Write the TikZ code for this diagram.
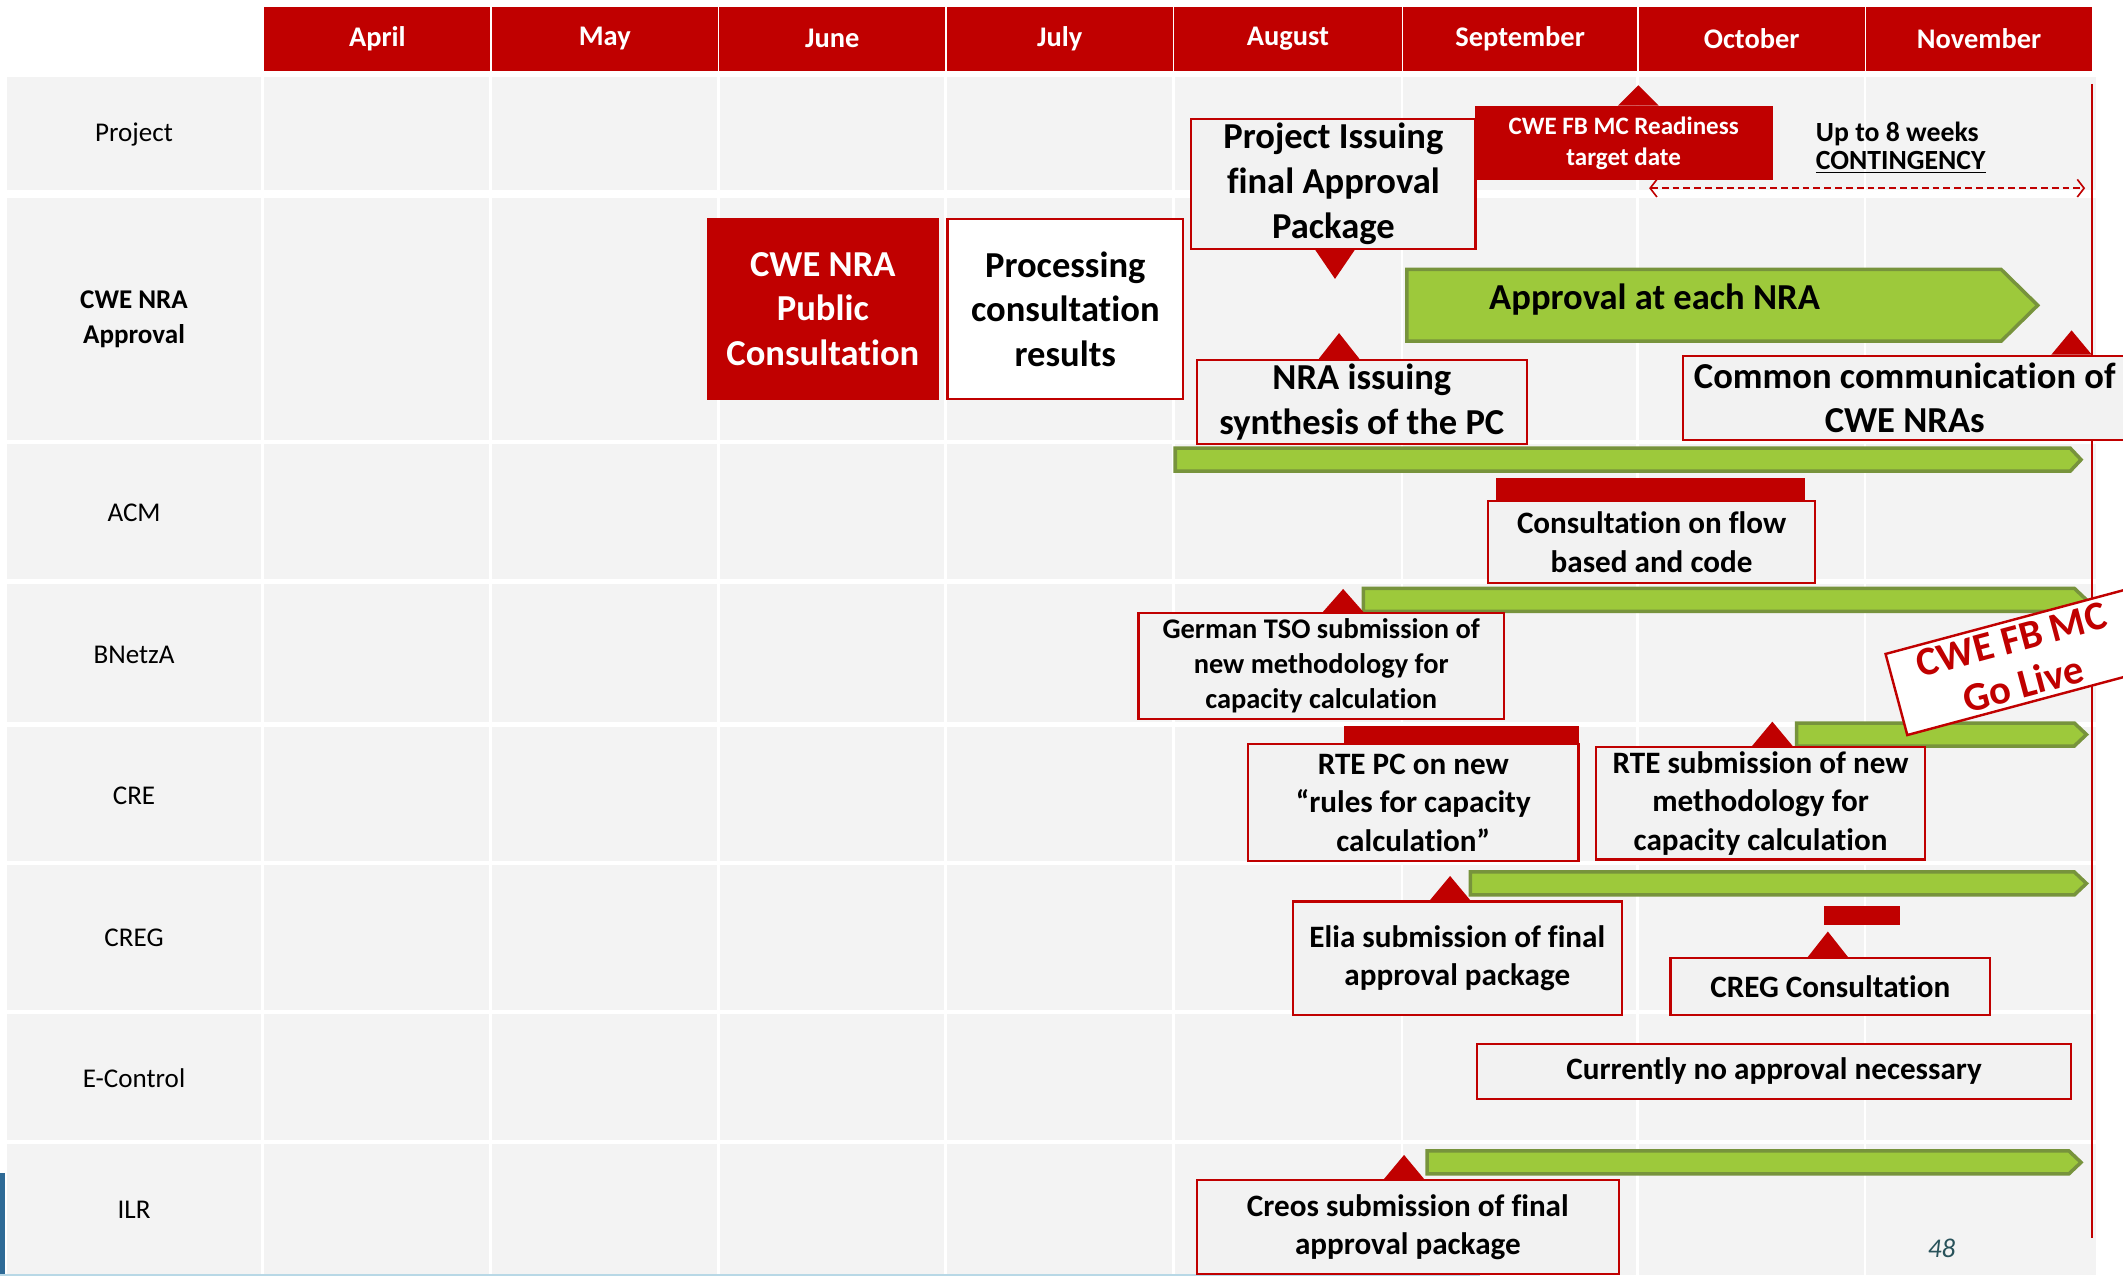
\documentclass[tikz,border=0pt]{standalone}
\usepackage{fontspec}
\setmainfont[RawFeature={-liga}]{Carlito}
\usetikzlibrary{arrows.meta}
\definecolor{cred}{HTML}{C00000}
\definecolor{cgray}{HTML}{F3F3F3}
\definecolor{bgray}{HTML}{F2F2F2}
\definecolor{gfill}{HTML}{9DC93B}
\definecolor{gdraw}{HTML}{77933C}
\definecolor{pgnum}{HTML}{28525A}
\definecolor{sblue}{HTML}{2E6A96}
\definecolor{lblue}{HTML}{B8D8E6}
\begin{document}
\begin{tikzpicture}[x=1pt,y=-1pt,
  month/.style={fill=cred, text=white, font=\bfseries\fontsize{21}{25}\selectfont, anchor=north west, inner sep=0pt, minimum height=47pt},
  rowlab/.style={font=\fontsize{20}{26}\selectfont, align=center, inner sep=0pt},
  box/.style={draw=cred, line width=1.6pt, fill=bgray, anchor=north west, inner sep=0pt, align=center, font=\bfseries\fontsize{23}{28.5}\selectfont},
  bigtxt/.style={font=\bfseries\fontsize{27}{33}\selectfont},
  greenbar/.style={fill=gfill, draw=gdraw, line width=2.6pt, line join=miter},
  redtri/.style={fill=cred},
  redbar/.style={fill=cred}]
\useasboundingbox (0,0) rectangle (1568,942);
\clip (0,0) rectangle (1568,942);
\fill[white] (0,0) rectangle (1568,942);

% grid rows
\foreach \ya/\yb in {57/140,146/325,328/428,431/533,537/636,639/746,749/842,845/942}
  \fill[cgray] (5,\ya) rectangle (1548,\yb);
\foreach \x in {194,362.5,530.5,698.5,866.5,1035.5,1209.5,1377.5}
  \draw[white, line width=2pt] (\x,55) -- (\x,942);

% slide artefacts
\fill[sblue] (0,866) rectangle (4,942);
\draw[lblue, line width=1.5pt] (0,941.5) -- (1093,941.5);

% header
\node[month, minimum width=167pt] (apr) at (195,5) {April};
\node[month, minimum width=167pt] (may) at (363,5) {May};
\node[month, minimum width=167pt] (jun) at (531,5) {June};
\node[month, minimum width=167pt] (jul) at (699,5) {July};
\node[month, minimum width=168pt] (aug) at (867,5) {August};
\node[month, minimum width=173pt] (sep) at (1036,5) {September};
\node[month, minimum width=167pt] (oct) at (1210,5) {October};
\node[month, minimum width=167pt] (nov) at (1378,5) {November};

% row labels
\node[rowlab] (lproj) at (99,99.5) {Project};
\node[rowlab, font=\bfseries\fontsize{20}{26}\selectfont] (lcwe) at (99,236) {CWE NRA\\Approval};
\node[rowlab] (lacm) at (99,379) {ACM};
\node[rowlab] (lbnetza) at (99,483.5) {BNetzA};
\node[rowlab] (lcre) at (99,587.5) {CRE};
\node[rowlab] (lcreg) at (99,693) {CREG};
\node[rowlab] (lecon) at (99,796.5) {E-Control};
\node[rowlab] (lilr) at (99,893.5) {ILR};

% go-live vertical line
\coordinate (vtop) at (1545,62);
\coordinate (vbot) at (1545,914);
\draw[cred, line width=2pt] (vtop) -- (vbot);

% green bars
\draw[greenbar] (1039,199) -- (1478,199) -- (1505,225.5) -- (1478,252) -- (1039,252) -- cycle;
\node[bigtxt] (appr) at (1222,221) {Approval at each NRA};
\draw[greenbar] (868,331) -- (1529,331) -- (1537,339.5) -- (1529,348) -- (868,348) -- cycle;
\draw[greenbar] (1007,434.5) -- (1532,434.5) -- (1541,443) -- (1532,451.5) -- (1007,451.5) -- cycle;
\draw[greenbar] (1327,534) -- (1532,534) -- (1541,542.5) -- (1532,551) -- (1327,551) -- cycle;
\draw[greenbar] (1086,644) -- (1532,644) -- (1541,652.5) -- (1532,661) -- (1086,661) -- cycle;
\draw[greenbar] (1054,850) -- (1528,850) -- (1537,858.5) -- (1528,867) -- (1054,867) -- cycle;

% red bars
\fill[redbar] (1105,353) rectangle (1333,369);
\fill[redbar] (993,536) rectangle (1166,549);
\fill[redbar] (1347,669) rectangle (1403,683);

% boxes
\node[fill=cred, text=white, bigtxt, align=center, anchor=north west, inner sep=0pt, minimum width=171pt, minimum height=134pt] (pubcons) at (522,161) {CWE NRA\\Public\\Consultation};
\node[box, bigtxt, fill=white, minimum width=174pt, minimum height=133pt] (proc) at (699,161) {Processing\\consultation\\results};
\node[box, bigtxt, minimum width=210pt, minimum height=96pt] (pi) at (879,87) {Project Issuing\\final Approval\\Package};
\node[fill=cred, text=white, anchor=north west, inner sep=0pt, align=center, font=\bfseries\fontsize{18.5}{23}\selectfont, minimum width=220pt, minimum height=55pt] (ready) at (1089,78) {CWE FB MC Readiness\\target date};
\node[anchor=west, align=left, inner sep=0pt, font=\bfseries\fontsize{20.5}{20.5}\selectfont] (cont) at (1341,109) {Up to 8 weeks\\\underline{CONTINGENCY}};
\node[box, bigtxt, minimum width=244pt, minimum height=62pt] (nrasyn) at (883,265) {NRA issuing\\synthesis of the PC};
\node[box, bigtxt, minimum width=328pt, minimum height=62pt] (common) at (1242,262) {Common communication of\\CWE NRAs};
\node[box, minimum width=242pt, minimum height=61pt] (flow) at (1098,369) {Consultation on flow\\based and code};
\node[box, font=\bfseries\fontsize{21}{26}\selectfont, minimum width=270pt, minimum height=78pt] (german) at (840,452) {German TSO submission of\\new methodology for\\capacity calculation};
\node[box, minimum width=244pt, minimum height=86pt] (rtepc) at (921,549) {RTE PC on new\\“rules for capacity\\calculation”};
\node[box, minimum width=243pt, minimum height=83pt] (rtesub) at (1178,551) {RTE submission of new\\methodology for\\capacity calculation};
\node[box, minimum width=243pt, minimum height=84pt] (elia) at (954,665) {Elia submission of final\\approval package};
\node[box, minimum width=236pt, minimum height=42pt] (cregc) at (1233,707) {CREG Consultation};
\node[box, minimum width=439pt, minimum height=41pt] (noappr) at (1090,770) {Currently no approval necessary};
\node[box, minimum width=312pt, minimum height=69pt] (creos) at (883,871) {Creos submission of final\\approval package};

% triangle markers
\fill[redtri] (971,184) -- (1001,184) -- (986,206) -- cycle;
\fill[redtri] (1195,78) -- (1225,78) -- (1210,63) -- cycle;
\fill[redtri] (974,265) -- (1004,265) -- (989,246) -- cycle;
\fill[redtri] (1515,262) -- (1545,262) -- (1530,244) -- cycle;
\fill[redtri] (977,452) -- (1007,452) -- (992,435) -- cycle;
\fill[redtri] (1294,551) -- (1324,551) -- (1309,533) -- cycle;
\fill[redtri] (1056,665) -- (1086,665) -- (1071,647) -- cycle;
\fill[redtri] (1335,707) -- (1365,707) -- (1350,688) -- cycle;
\fill[redtri] (1022,871) -- (1052,871) -- (1037,853) -- cycle;

% contingency arrow
\coordinate (ca) at (1218,139);
\coordinate (cb) at (1540,139);
\draw[cred, line width=1.2pt, dash pattern=on 5pt off 3pt, {Straight Barb[length=5pt,width=13pt]}-{Straight Barb[length=5pt,width=13pt]}] (ca) -- (cb);

% go live
\node[draw=cred, line width=1.8pt, fill=white, text=cred, rotate=15, minimum width=185pt, minimum height=62pt, inner sep=0pt, align=center, font=\bfseries\fontsize{30}{34}\selectfont] (golive) at (1490,489) {CWE FB MC\\Go Live};

% page number
\node[text=pgnum, font=\itshape\fontsize{20}{24}\selectfont, inner sep=0pt] (pg) at (1434,922) {48};
\end{tikzpicture}
\end{document}
